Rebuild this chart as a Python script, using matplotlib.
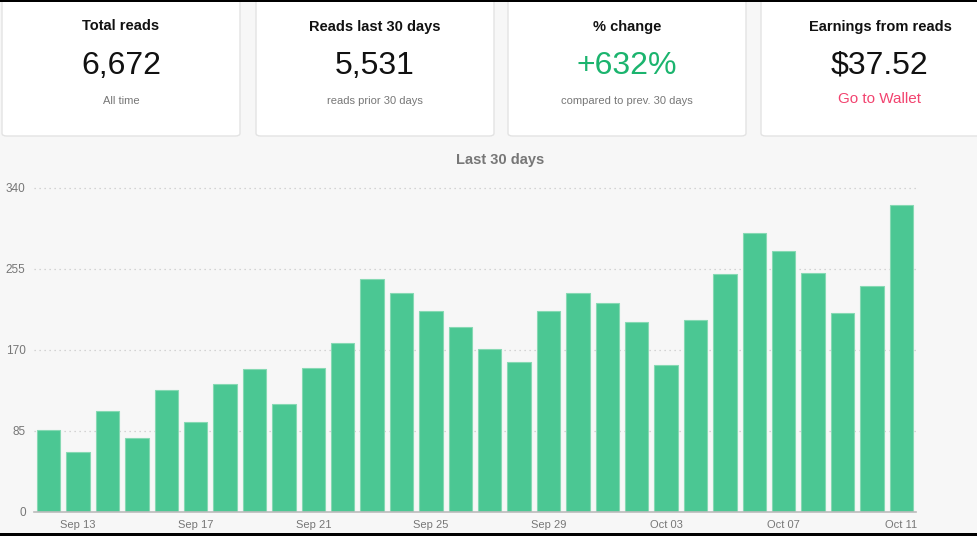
import matplotlib
matplotlib.use("Agg")
import matplotlib.pyplot as plt
from matplotlib.patches import FancyBboxPatch, Rectangle
import pandas as pd

plt.rcParams['font.family'] = ['Liberation Sans', 'DejaVu Sans']

# daily reads, Sep 12 - Oct 11
start_day = "2019-09-12"
reads = [86, 63, 106, 77, 128, 94, 134, 150, 113, 151,
         177, 244, 229, 211, 194, 171, 157, 211, 229, 219,
         199, 154, 201, 249, 292, 274, 251, 208, 237, 322]
y_ticks = [0, 85, 170, 255, 340]

card_titles = ["Total reads", "Reads last 30 days", "% change", "Earnings from reads"]
card_values = ["6,672", "5,531", "+632%", "$37.52"]
card_notes = ["All time", "reads prior 30 days", "compared to prev. 30 days", "Go to Wallet"]

days = pd.date_range(start_day, periods=len(reads))
day_labels = [d.strftime("%b %d") for d in days]

W, H = 978, 536
fig = plt.figure(figsize=(W / 100, H / 100), dpi=100)
fig.patch.set_facecolor("#f7f7f7")

def fx(px):
    return px / W

def fy(py):
    return 1 - py / H

# cards
card_left = [2, 256, 508, 761]
card_w = 238
for i, x0 in enumerate(card_left):
    box = FancyBboxPatch((fx(x0), fy(136)), fx(card_w), fy(-10) - fy(136),
                         boxstyle="round,pad=0,rounding_size=0.005",
                         transform=fig.transFigure, facecolor="white",
                         edgecolor="#e3e3e3", linewidth=1, zorder=1)
    fig.patches.append(box)
    cx = fx(x0 + card_w / 2)
    fig.text(cx, fy(26.5), card_titles[i], ha="center", va="center",
             fontsize=10.5, fontweight="bold", color="#111111")
    vcol = "#1bb46e" if i == 2 else "#111111"
    fig.text(cx, fy(66), card_values[i], ha="center", va="center",
             fontsize=23, color=vcol)
    if i == 3:
        fig.text(cx, fy(99), card_notes[i], ha="center", va="center",
                 fontsize=11, color="#f2436f")
    else:
        fig.text(cx, fy(101), card_notes[i], ha="center", va="center",
                 fontsize=8, color="#777777")

# black edges of the screenshot
fig.patches.append(Rectangle((0, fy(2)), 1, fy(0) - fy(2), transform=fig.transFigure,
                             facecolor="black", edgecolor="none", zorder=5))
fig.patches.append(Rectangle((0, 0), 1, fy(533), transform=fig.transFigure,
                             facecolor="black", edgecolor="none", zorder=5))

fig.text(fx(500), fy(160), "Last 30 days", ha="center", va="center",
         fontsize=10.5, fontweight="bold", color="#777777")

# chart
ax = fig.add_axes([fx(34), fy(511.7), fx(916) - fx(34), fy(187.7) - fy(511.7)])
ax.set_facecolor("#f7f7f7")
idx = list(range(len(reads)))
ax.bar(idx, reads, width=0.8, color="#4bc793", edgecolor="#86d9b3", linewidth=0.8, zorder=3)
ax.set_xlim(-0.5, len(reads) - 0.5)
ax.set_ylim(0, 340)
ax.set_yticks(y_ticks)
ax.set_yticklabels([str(t) for t in y_ticks])
for t in y_ticks[1:]:
    ax.axhline(t, color="#c8c8c8", linestyle=(0, (1, 3)), linewidth=0.9, zorder=1, clip_on=False)
tick_idx = idx[1::4]
ax.set_xticks(tick_idx)
ax.set_xticklabels([day_labels[i] for i in tick_idx])
ax.tick_params(length=0, labelsize=8, colors="#777777")
ax.tick_params(axis="y", pad=6, labelsize=8.5)
ax.tick_params(axis="x", pad=6)
for s in ["top", "right", "left"]:
    ax.spines[s].set_visible(False)
ax.spines["bottom"].set_color("#bbbbbb")
ax.spines["bottom"].set_linewidth(1.2)
ax.spines["bottom"].set_zorder(4)

fig.savefig("out.png", dpi=100, facecolor=fig.get_facecolor())
